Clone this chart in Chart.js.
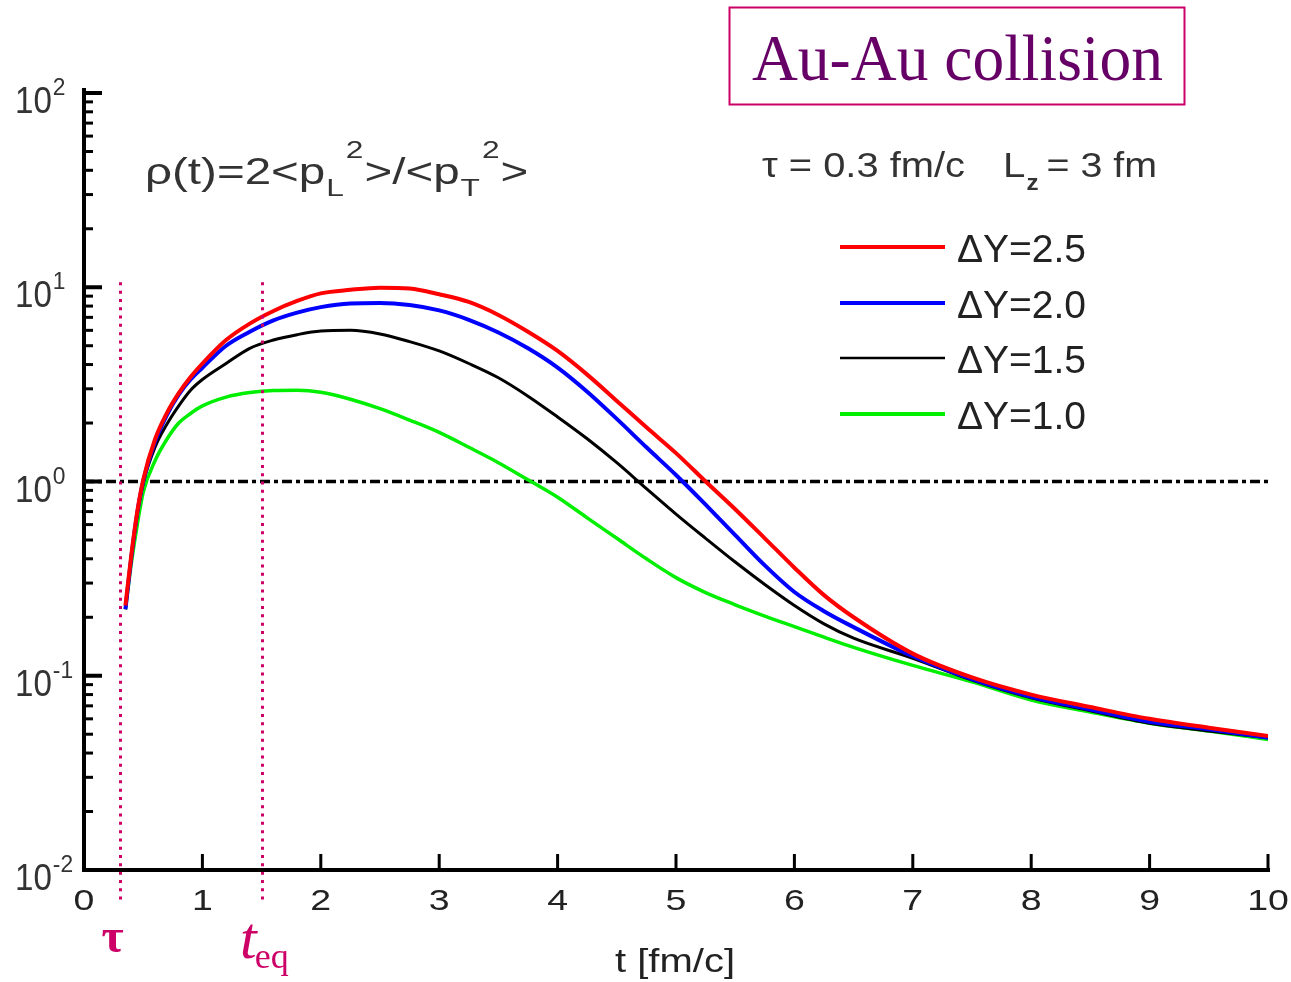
<!DOCTYPE html>
<html>
<head>
<meta charset="utf-8">
<title>rho(t) Au-Au</title>
<script src="https://cdn.jsdelivr.net/npm/chart.js@4.4.1/dist/chart.umd.min.js"></script>
<style>
  body { margin: 0; background: #fff; }
  canvas { display: block; }
</style>
</head>
<body>
<canvas id="myChart" width="1291" height="982"></canvas>
<script>
// Datos
//? tiempo t [fm/c]
const tValues = [0.35, 0.4, 0.45, 0.5, 0.6, 0.7, 0.8, 0.9, 1.0, 1.2, 1.4, 1.6, 1.8, 2.0, 2.25, 2.5, 2.75, 3.0, 3.25, 3.5, 3.75, 4.0, 4.25, 4.5, 4.75, 5.0, 5.25, 5.5, 5.75, 6.0, 6.25, 6.5, 7.0, 7.5, 8.0, 8.5, 9.0, 9.5, 10.0];
//? rho(t) para cada ΔY
const rhoDY25 = [0.23, 0.42, 0.7, 1.02, 1.65, 2.25, 2.85, 3.45, 4.05, 5.35, 6.5, 7.55, 8.5, 9.3, 9.7, 9.95, 9.85, 9.2, 8.4, 7.2, 5.9, 4.7, 3.55, 2.6, 1.9, 1.4, 1.0, 0.72, 0.51, 0.36, 0.26, 0.2, 0.13, 0.098, 0.08, 0.069, 0.06, 0.054, 0.049];
const rhoDY20 = [0.22, 0.41, 0.69, 1.0, 1.6, 2.2, 2.8, 3.35, 3.85, 5.0, 5.9, 6.75, 7.4, 7.9, 8.25, 8.3, 8.1, 7.6, 6.8, 5.85, 4.85, 3.86, 2.9, 2.1, 1.5, 1.08, 0.76, 0.53, 0.37, 0.27, 0.215, 0.178, 0.126, 0.096, 0.078, 0.067, 0.058, 0.053, 0.048];
const rhoDY15 = [0.22, 0.41, 0.68, 0.98, 1.5, 1.97, 2.45, 2.95, 3.35, 4.05, 4.85, 5.35, 5.7, 5.95, 6.0, 5.75, 5.25, 4.7, 4.05, 3.42, 2.75, 2.15, 1.66, 1.25, 0.92, 0.68, 0.51, 0.385, 0.295, 0.23, 0.185, 0.156, 0.123, 0.095, 0.077, 0.066, 0.057, 0.052, 0.048];
const rhoDY10 = [0.22, 0.38, 0.6, 0.88, 1.28, 1.65, 2.0, 2.24, 2.45, 2.72, 2.87, 2.94, 2.95, 2.88, 2.65, 2.37, 2.07, 1.79, 1.5, 1.25, 1.02, 0.83, 0.65, 0.51, 0.4, 0.32, 0.268, 0.232, 0.203, 0.179, 0.158, 0.14, 0.113, 0.093, 0.075, 0.065, 0.057, 0.052, 0.047];
//? etiquetas y colores de las series
const seriesLabels = ["ΔY=2.5", "ΔY=2.0", "ΔY=1.5", "ΔY=1.0"];
const seriesColors = ["#ff0000", "#0000ff", "#000000", "#00ee00"];
const seriesWidths = [4, 4, 3, 3.5];
//? ticks de los ejes
const xTicks = [0, 1, 2, 3, 4, 5, 6, 7, 8, 9, 10];
const yTickExps = [2, 1, 0, -1, -2];
//? lineas verticales tau y t_eq
const markers = [0.3, 1.5];
const markerTop = 10.6;
const refLevel = 1;

const SANS = '"Liberation Sans", Arial, sans-serif';
const SERIF = '"Liberation Serif", "Times New Roman", serif';

// Funciones
//? texto con escala horizontal
function drawText(ctx, s, x, y, font, color, sx, align) {
  ctx.save();
  ctx.font = font;
  ctx.fillStyle = color;
  ctx.textAlign = "left";
  ctx.textBaseline = "alphabetic";
  const w = ctx.measureText(s).width * sx;
  let x0 = x;
  if (align === "center") x0 = x - w / 2;
  if (align === "right") x0 = x - w;
  ctx.translate(x0, y);
  ctx.scale(sx, 1);
  ctx.fillText(s, 0, 0);
  ctx.restore();
  return x0 + w;
}

//? texto ajustado a un ancho
function drawFit(ctx, s, x, y, font, color, width) {
  ctx.save();
  ctx.font = font;
  const sx = width / ctx.measureText(s).width;
  ctx.restore();
  return drawText(ctx, s, x, y, font, color, sx, "left");
}

function line(ctx, x1, y1, x2, y2) {
  ctx.beginPath();
  ctx.moveTo(x1, y1);
  ctx.lineTo(x2, y2);
  ctx.stroke();
}

//? plugin para ejes, textos y leyenda
const decor = {
  id: "decor",
  afterDatasetsDraw(chart) {
    const ctx = chart.ctx;
    const { x, y } = chart.scales;
    const top = y.getPixelForValue(markerTop);
    const bottom = chart.chartArea.bottom + 34;
    ctx.save();
    ctx.strokeStyle = "#cc0066";
    ctx.lineWidth = 3;
    ctx.setLineDash([3, 5.3]);
    markers.forEach((m) => {
      const px = Math.round(x.getPixelForValue(m)) + 0.5;
      line(ctx, px, top, px, bottom);
    });
    ctx.restore();
  },
  afterDraw(chart) {
    const ctx = chart.ctx;
    const { x, y } = chart.scales;
    const area = chart.chartArea;
    ctx.save();
    ctx.strokeStyle = "#000";
    ctx.lineCap = "butt";

    // ejes
    ctx.lineWidth = 4;
    line(ctx, area.left, area.top - 5, area.left, area.bottom + 2);
    line(ctx, area.left - 2, area.bottom, area.right + 2, area.bottom);

    // ticks eje y (log)
    ctx.lineWidth = 3;
    for (let k = -2; k <= 1; k++) {
      for (let m = 2; m <= 9; m++) {
        const py = y.getPixelForValue(m * Math.pow(10, k));
        line(ctx, area.left, py, area.left + 9, py);
      }
    }
    ctx.lineWidth = 4;
    yTickExps.forEach((e) => {
      const py = y.getPixelForValue(Math.pow(10, e));
      line(ctx, area.left, py, area.left + 18, py);
      const xr = drawText(ctx, "10", 15, py + 20, "36px " + SANS, "#333", 0.92, "left");
      drawText(ctx, String(e), xr + 1, py + 2, "24px " + SANS, "#333", 0.95, "left");
    });

    // ticks eje x
    ctx.lineWidth = 3;
    xTicks.forEach((t) => {
      const px = x.getPixelForValue(t);
      if (t > 0) line(ctx, px, area.bottom, px, area.bottom - 16);
      drawText(ctx, String(t), px, 910, "30px " + SANS, "#222", 1.25, "center");
    });
    drawFit(ctx, "t [fm/c]", 615, 972, "34px " + SANS, "#222", 120);

    // etiquetas tau y t_eq
    drawText(ctx, "τ", x.getPixelForValue(markers[0]) - 7, 952, "bold 48px " + SERIF, "#cc0066", 1, "center");
    const xt = drawText(ctx, "t", 240, 958, "italic 60px " + SERIF, "#cc0066", 1, "left");
    drawText(ctx, "eq", xt - 2, 968, "36px " + SERIF, "#cc0066", 1, "left");

    // formula rho
    const big = "36px " + SANS;
    const small = "24px " + SANS;
    const sx = 1.32;
    let cx = drawText(ctx, "ρ(t)=2<p", 145, 184, big, "#333", sx, "left");
    cx = drawText(ctx, "L", cx + 1, 196, small, "#333", sx, "left");
    cx = drawText(ctx, "2", cx + 2, 158, small, "#333", sx, "left");
    cx = drawText(ctx, ">/<p", cx + 1, 184, big, "#333", sx, "left");
    cx = drawText(ctx, "T", cx + 1, 196, small, "#333", sx, "left");
    cx = drawText(ctx, "2", cx + 2, 158, small, "#333", sx, "left");
    drawText(ctx, ">", cx + 1, 184, big, "#333", sx, "left");

    // parametros
    drawFit(ctx, "τ = 0.3 fm/c", 762, 177, "35px " + SANS, "#333", 203);
    const xl = drawText(ctx, "L", 1003, 177, "35px " + SANS, "#333", 1.15, "left");
    const xz = drawText(ctx, "z", xl + 1, 190, "bold 22px " + SANS, "#333", 1.1, "left");
    drawFit(ctx, "= 3 fm", xz + 8, 177, "35px " + SANS, "#333", 1157 - xz - 8);

    // leyenda
    const legendY = [247, 303, 358, 414];
    seriesLabels.forEach((lbl, i) => {
      ctx.strokeStyle = seriesColors[i];
      ctx.lineWidth = i === 2 ? 2.5 : 4;
      line(ctx, 840, legendY[i], 945, legendY[i]);
      drawText(ctx, lbl, 957, legendY[i] + 15, "39px " + SANS, "#222", 1, "left");
    });

    // titulo
    ctx.strokeStyle = "#cc0066";
    ctx.lineWidth = 2;
    ctx.strokeRect(729.5, 7.5, 455, 97);
    drawFit(ctx, "Au-Au collision", 752, 80, "66px " + SERIF, "#660066", 411);

    ctx.restore();
  },
};

// Crear data para el grafico
function crearData() {
  const series = [rhoDY25, rhoDY20, rhoDY15, rhoDY10];
  const datasets = series.map((serie, i) => ({
    label: seriesLabels[i],
    data: tValues.map((t, j) => ({ x: t, y: serie[j] })),
    borderColor: seriesColors[i],
    borderWidth: seriesWidths[i],
    pointRadius: 0,
    cubicInterpolationMode: "monotone",
    fill: false,
  }));
  //? linea de referencia rho = 1
  datasets.push({
    label: "ref",
    data: [{ x: xTicks[0], y: refLevel }, { x: xTicks[xTicks.length - 1], y: refLevel }],
    borderColor: "#000",
    borderWidth: 3.5,
    borderDash: [10, 4, 4, 4],
    pointRadius: 0,
    fill: false,
  });
  return { datasets };
}

const config = {
  type: "line",
  data: crearData(),
  options: {
    responsive: false,
    animation: false,
    layout: { padding: { left: 84, right: 23, top: 93, bottom: 112 } },
    plugins: { legend: { display: false }, tooltip: { enabled: false } },
    scales: {
      x: { type: "linear", min: 0, max: 10, display: false },
      y: { type: "logarithmic", min: 0.01, max: 100, display: false },
    },
  },
  plugins: [decor],
};

new Chart(document.getElementById("myChart"), config);
</script>
</body>
</html>
